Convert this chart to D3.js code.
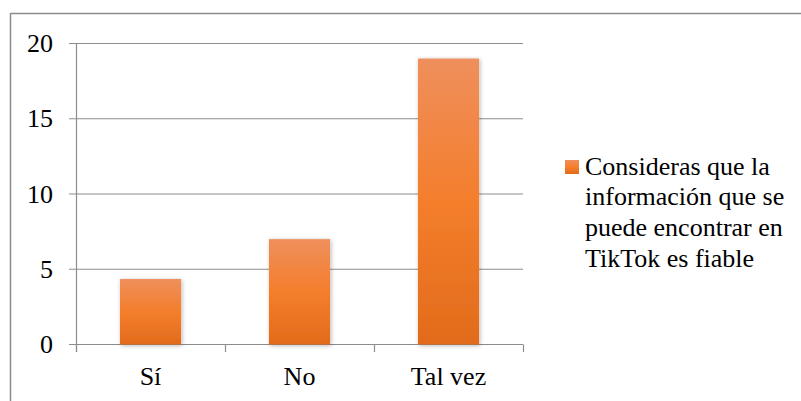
<!DOCTYPE html>
<html><head><meta charset="utf-8">
<script src="https://cdn.jsdelivr.net/npm/d3@7"></script>
<style>
@font-face{font-family:"RefSerif";src:local("Liberation Serif"),local("LiberationSerif"),local("Times New Roman"),local("Tinos");}
body{margin:0}
</style>
</head><body>
<svg id="c" width="801" height="401"></svg>
<script>
const categories = ["Sí", "No", "Tal vez"];
const values = [4.35, 7, 19];
const yTicks = [0, 5, 10, 15, 20];
const seriesName = ["Consideras que la", "información que se", "puede encontrar en", "TikTok es fiable"];

const FONT = '"Times New Roman", "Liberation Serif", RefSerif, Times, serif';
const svg = d3.select("#c");
const defs = svg.append("defs");
const g = defs.append("linearGradient").attr("id","bg").attr("x1",0).attr("y1",0).attr("x2",0).attr("y2",1);
g.append("stop").attr("offset","0%").attr("stop-color","#EF8F5C");
g.append("stop").attr("offset","50%").attr("stop-color","#F47E2C");
g.append("stop").attr("offset","100%").attr("stop-color","#E26B1B");
const f = defs.append("filter").attr("id","sh").attr("x","-30%").attr("y","-10%").attr("width","160%").attr("height","120%");
f.append("feDropShadow").attr("dx",1).attr("dy",1).attr("stdDeviation",2.2).attr("flood-color","#000").attr("flood-opacity",0.3);

// outer frame
svg.append("line").attr("x1",10.5).attr("x2",801).attr("y1",13.5).attr("y2",13.5).attr("stroke","#8c8c8c").attr("stroke-width",1.5);
svg.append("line").attr("x1",10.5).attr("x2",10.5).attr("y1",13).attr("y2",401).attr("stroke","#8c8c8c").attr("stroke-width",1.5);

const x = d3.scaleBand().domain(categories).range([76, 523]);
const y = d3.scaleLinear().domain([0, 20]).range([344.5, 43.5]);

// gridlines
svg.append("g").selectAll("line").data(yTicks).join("line")
  .attr("x1",69).attr("x2",523).attr("y1",d=>y(d)).attr("y2",d=>y(d))
  .attr("stroke","#8c8c8c").attr("stroke-width",1.2);
// y axis line
svg.append("line").attr("x1",76.5).attr("x2",76.5).attr("y1",y(20)).attr("y2",352).attr("stroke","#8c8c8c").attr("stroke-width",1.2);
// x ticks
const xt = categories.map(c=>x(c)).concat([x.range()[1]]);
svg.append("g").selectAll("line").data(xt).join("line")
  .attr("x1",d=>d+0.5).attr("x2",d=>d+0.5).attr("y1",344.5).attr("y2",352)
  .attr("stroke","#8c8c8c").attr("stroke-width",1.2);

// bars
const bw = x.bandwidth()*0.41;
svg.append("g").selectAll("rect").data(values).join("rect")
  .attr("x",(d,i)=>x(categories[i])+x.bandwidth()/2-bw/2)
  .attr("y",d=>y(d)).attr("width",bw).attr("height",d=>y(0)-y(d))
  .attr("fill","url(#bg)").attr("filter","url(#sh)");

function txt(sel){ return sel.attr("font-family",FONT).style("font-family",FONT).attr("font-size",26).attr("fill","#000"); }
// y labels
txt(svg.selectAll("text.yl").data(yTicks).join("text").attr("class","yl")
  .attr("x",53).attr("y",d=>y(d)+8.5).attr("text-anchor","end")).text(d=>d);
// x labels
txt(svg.selectAll("text.xl").data(categories).join("text").attr("class","xl")
  .attr("x",d=>x(d)+x.bandwidth()/2).attr("y",385).attr("text-anchor","middle")).text(d=>d);

// legend
svg.append("rect").attr("x",565).attr("y",160).attr("width",14).attr("height",14).attr("fill","url(#bg)");
txt(svg.selectAll("text.lg").data(seriesName).join("text").attr("class","lg")
  .attr("x",585).attr("y",(d,i)=>174.5+i*30.8)).text(d=>d);
</script>
</body></html>
